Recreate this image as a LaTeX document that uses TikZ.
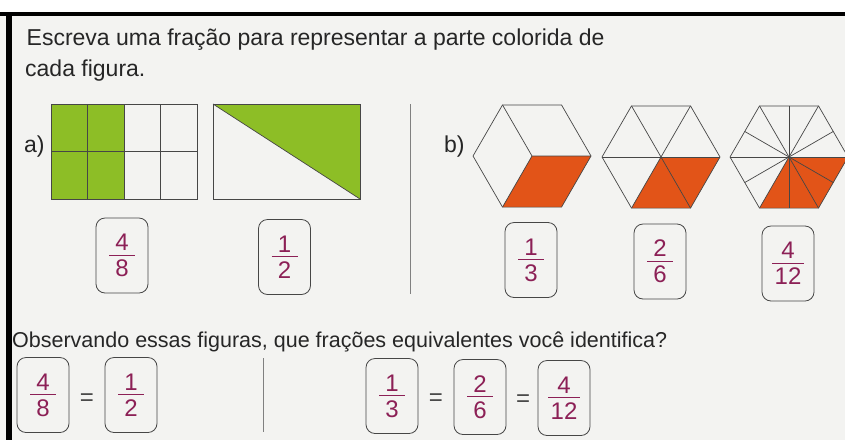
\documentclass[tikz,border=0pt]{standalone}
\usepackage{fontspec}
\setmainfont{Liberation Sans}
\definecolor{paper}{RGB}{243,243,241}
\definecolor{leafgreen}{RGB}{141,190,38}
\definecolor{brickorange}{RGB}{226,84,24}
\definecolor{plum}{RGB}{140,32,86}
\definecolor{inkgray}{RGB}{70,70,70}
% numerator over denominator with a bar of fixed width
\newcommand{\fracstack}[3][26pt]{\vbox{\hbox to #1{\hfil#2\hfil}\kern4pt\hrule height 0.9pt\kern4.5pt\hbox to #1{\hfil#3\hfil}}}
\begin{document}
\begin{tikzpicture}[x=1pt,y=-1pt,
  fracbox/.style={draw=inkgray, line width=0.8pt, rounded corners=9pt, minimum width=52pt, minimum height=75pt, inner sep=0pt, text=plum, font=\fontsize{24}{28}\selectfont},
  eqsign/.style={anchor=base, inner sep=0pt, text=inkgray, font=\fontsize{24}{28}\selectfont},
  heading/.style={anchor=base west, inner sep=0pt, text=black!85, font=\fontsize{23}{28}\selectfont},
  gridline/.style={draw=inkgray, line width=0.7pt},
  divider/.style={draw=gray, line width=0.8pt}]
\useasboundingbox (0,0) rectangle (845,440);
\fill[paper] (0,0) rectangle (845,440);
\fill[white] (0,0) rectangle (845,12);
\fill[black] (0,12) rectangle (845,16);
\fill[black] (6,12) rectangle (12,440);
\node[heading] (title1) at (26.5,45) {Escreva uma fração para representar a parte colorida de};
\node[heading] (title2) at (25,76) {cada figura.};
\node[heading] (parta) at (24,152) {a)};
\node[heading] (partb) at (444,152) {b)};
% a) rectangles
\fill[leafgreen] (51,104) rectangle (124,199);
\draw[gridline] (51,104) rectangle (197,199);
\foreach \x in {87.5,124,160.5} \draw[gridline] (\x,104) -- (\x,199);
\draw[gridline] (51,151.5) -- (197,151.5);
\fill[leafgreen] (213,104) -- (360,104) -- (360,199) -- cycle;
\draw[gridline] (213,104) rectangle (360,199);
\draw[gridline] (213,104) -- (360,199);
\draw[divider] (410,104) -- (410,294);
% b) hexagons
\coordinate (h1) at (532,156);
\coordinate (h2) at (661,157);
\coordinate (h3) at (789,157);
\foreach \h in {h1,h2,h3} {
  \fill[brickorange] (\h) -- +(0:59) -- +(60:59) -- +(120:59) -- cycle;
  \draw[gridline] (\h) +(0:59) -- +(60:59) -- +(120:59) -- +(180:59) -- +(240:59) -- +(300:59) -- cycle;
}
\draw[gridline] (h1) -- +(0:59) (h1) -- +(120:59) (h1) -- +(240:59);
\foreach \a in {0,60,...,300} \draw[gridline] (h2) -- +(\a:59);
\foreach \a in {0,60,...,300} \draw[gridline] (h3) -- +(\a:59);
\foreach \a in {30,90,...,330} \draw[gridline] (h3) -- +(\a:51.1);
% answers
\node[fracbox] (fa) at (122,255.5) {\fracstack{4}{8}};
\node[fracbox] (fb) at (284.5,257) {\fracstack{1}{2}};
\node[fracbox] (fc) at (531,260) {\fracstack{1}{3}};
\node[fracbox] (fd) at (660,261.5) {\fracstack{2}{6}};
\node[fracbox] (fe) at (788,263.5) {\fracstack[32pt]{4}{12}};
\node[heading, font=\fontsize{21.5}{26}\selectfont] (question) at (12,347) {Observando essas figuras, que frações equivalentes você identifica?};
\node[fracbox] (ga) at (43,395) {\fracstack{4}{8}};
\node[eqsign] (eqa) at (87,405) {=};
\node[fracbox] (gb) at (131,395) {\fracstack{1}{2}};
\draw[divider] (263,358) -- (263,432);
\node[fracbox] (gc) at (392,396) {\fracstack{1}{3}};
\node[eqsign] (eqb) at (436,405.5) {=};
\node[fracbox] (gd) at (480,397) {\fracstack{2}{6}};
\node[eqsign] (eqc) at (523,406) {=};
\node[fracbox] (ge) at (564,398) {\fracstack[32pt]{4}{12}};
\end{tikzpicture}
\end{document}
